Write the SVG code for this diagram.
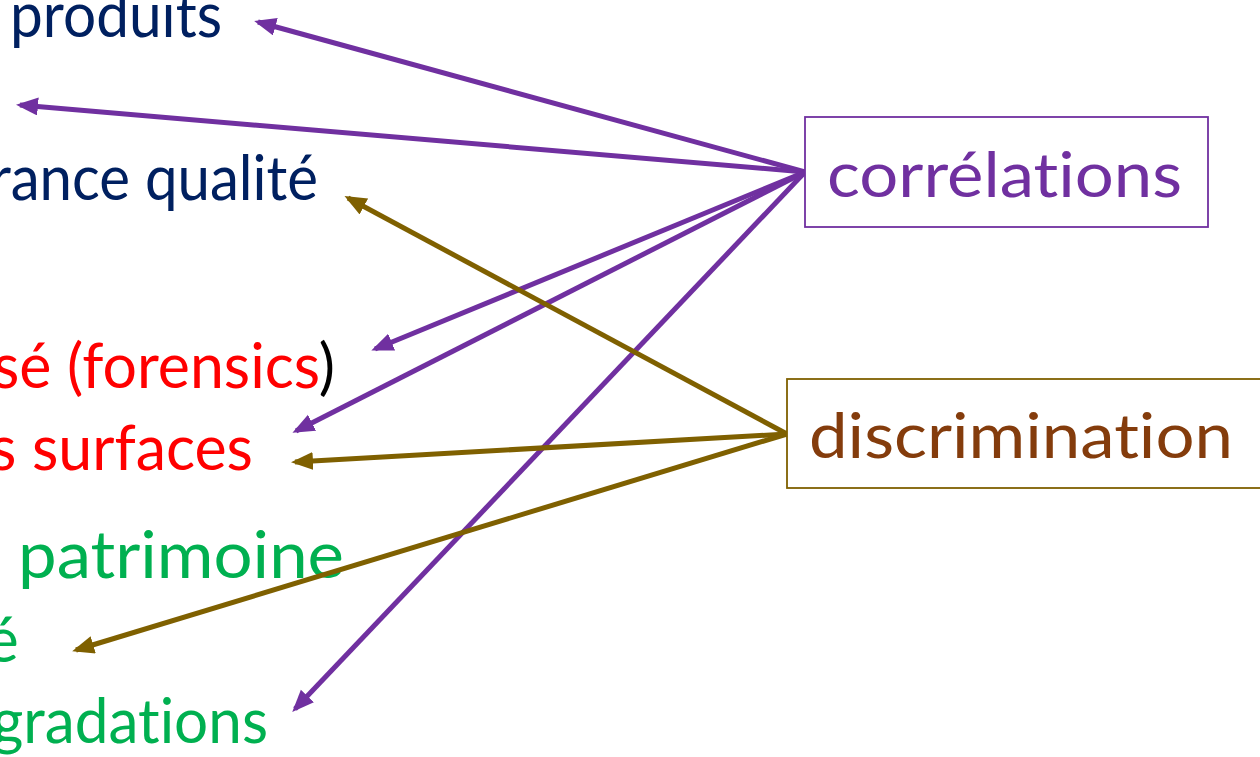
<svg xmlns="http://www.w3.org/2000/svg" width="1260" height="757" viewBox="0 0 1260 757">
<defs>
<style>
text{font-family:Lato,"Liberation Sans",sans-serif;font-size:62px;font-variant-ligatures:none;font-feature-settings:"liga" 0,"clig" 0}
.navy{fill:#002060}.red{fill:#FF0000}.green{fill:#00B050}.black{fill:#000000}
.box{fill:#ffffff;stroke-width:1.8}
.p{stroke:#7030A0;stroke-width:5;fill:none;marker-end:url(#ap)}
.b{stroke:#7F6000;stroke-width:5;fill:none;marker-end:url(#ab)}
</style>
<marker id="ap" markerUnits="userSpaceOnUse" markerWidth="24" markerHeight="20" refX="18" refY="9" orient="auto"><path d="M0,0 L22,9 L0,18 z" fill="#7030A0"/></marker>
<marker id="ab" markerUnits="userSpaceOnUse" markerWidth="24" markerHeight="20" refX="18" refY="9" orient="auto"><path d="M0,0 L22,9 L0,18 z" fill="#7F6000"/></marker>
</defs>
<rect width="1260" height="757" fill="#ffffff"/>
<g id="labels">
<g id="produits"><text class="navy" x="10" y="37" textLength="212" lengthAdjust="spacingAndGlyphs">produits</text></g>
<g id="assurance"><text class="navy" x="-10" y="200" textLength="328" lengthAdjust="spacingAndGlyphs">rance qualité</text></g>
<g id="forensics"><text class="red" x="-7" y="388" textLength="342" lengthAdjust="spacingAndGlyphs">sé (forensics<tspan class="black">)</tspan></text></g>
<g id="surfaces"><text class="red" x="-10" y="470" textLength="263" lengthAdjust="spacingAndGlyphs">s surfaces</text></g>
<g id="patrimoine"><text class="green" x="18" y="578" textLength="326" lengthAdjust="spacingAndGlyphs" style="font-size:66px">patrimoine</text></g>
<g id="e-accent"><text class="green" x="-14" y="662">é</text></g>
<g id="degradations"><text class="green" x="-8" y="743" textLength="276" lengthAdjust="spacingAndGlyphs">gradations</text></g>
</g>
<g id="connectors">
<line class="p" x1="805" y1="172" x2="258" y2="22"/>
<line class="p" x1="805" y1="172" x2="20" y2="105"/>
<line class="p" x1="805" y1="172" x2="375" y2="349"/>
<line class="p" x1="805" y1="172" x2="296" y2="431"/>
<line class="p" x1="805" y1="172" x2="295" y2="709"/>
<line class="b" x1="787" y1="434" x2="348" y2="198"/>
<line class="b" x1="787" y1="434" x2="295" y2="462"/>
<line class="b" x1="787" y1="434" x2="76" y2="650"/>
</g>
<g id="correlations">
<rect class="box" x="805" y="117" width="403" height="110" stroke="#7030A0"/>
<text x="827" y="197" fill="#7030A0" textLength="355" lengthAdjust="spacingAndGlyphs">corrélations</text>
</g>
<g id="discrimination">
<rect class="box" x="787" y="379" width="500" height="109" stroke="#7F6000"/>
<text x="809" y="458" fill="#843C0C" textLength="424" lengthAdjust="spacingAndGlyphs">discrimination</text>
</g>
</svg>
